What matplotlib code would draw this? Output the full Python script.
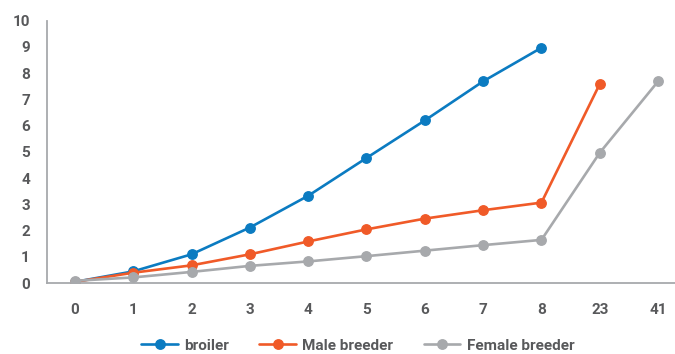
import numpy as np
import matplotlib.pyplot as plt

# data
ages = ['0', '1', '2', '3', '4', '5', '6', '7', '8', '23', '41']
broiler = [0.05, 0.45, 1.1, 2.12, 3.33, 4.77, 6.2, 7.69, 8.97, np.nan, np.nan]
male_breeder = [0.05, 0.4, 0.68, 1.1, 1.59, 2.05, 2.46, 2.78, 3.07, 7.59, np.nan]
female_breeder = [0.09, 0.22, 0.43, 0.66, 0.83, 1.03, 1.24, 1.45, 1.65, 4.97, 7.69]

series = [
    ('broiler', broiler, '#0B7BC1'),
    ('Male breeder', male_breeder, '#F05A28'),
    ('Female breeder', female_breeder, '#A7A9AC'),
]

text_color = '#58595B'
plt.rcParams['font.family'] = ['Roboto', 'DejaVu Sans']

fig = plt.figure(figsize=(6.75, 3.54), dpi=100)
ax = fig.add_axes([0.069, 0.2, 0.931, 0.7415])

x = np.arange(len(ages))
for name, vals, col in series:
    ax.plot(x, vals, color=col, lw=1.9, marker='o', ms=6.8, label=name,
            solid_capstyle='round')

ax.set_xlim(-0.485, 10.29)
ax.set_ylim(0, 10)
ax.set_xticks(x)
ax.set_xticklabels(ages)
ax.set_yticks(range(0, 11))

for s in ['top', 'right']:
    ax.spines[s].set_visible(False)
for s in ['left', 'bottom']:
    ax.spines[s].set_color('#A7A9AC')
    ax.spines[s].set_linewidth(1.3)

ax.tick_params(axis='both', length=0, labelsize=11, labelcolor=text_color)
ax.tick_params(axis='x', pad=14)
ax.tick_params(axis='y', pad=12)
for lbl in ax.get_xticklabels() + ax.get_yticklabels():
    lbl.set_fontweight('bold')

leg = fig.legend(loc='lower center', ncol=3,
                 bbox_to_anchor=(0.53, -0.035), frameon=False, handlelength=2.4,
                 columnspacing=2.0, handletextpad=0.4,
                 prop={'size': 11, 'weight': 'bold'})
for t in leg.get_texts():
    t.set_color(text_color)

fig.savefig('out.png', dpi=100)
